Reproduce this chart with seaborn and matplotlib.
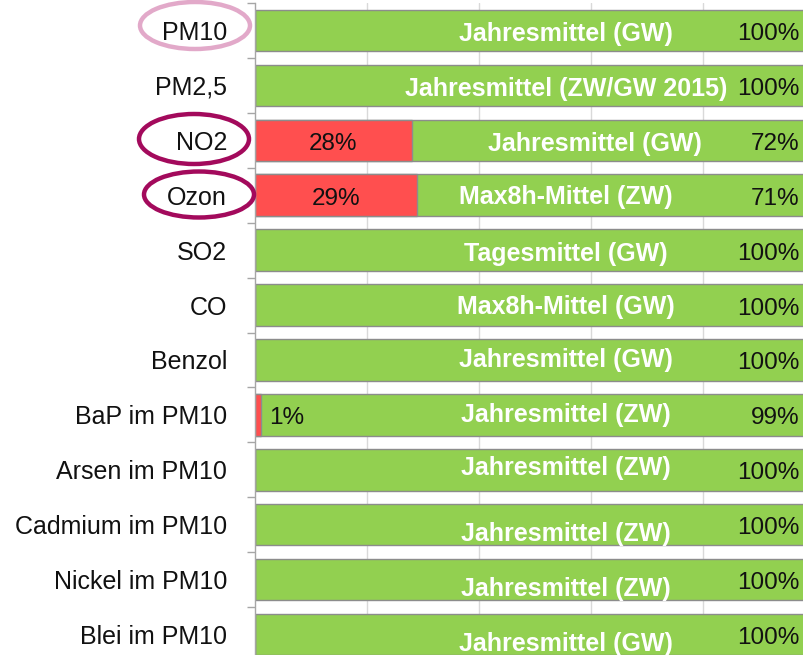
import matplotlib
matplotlib.use("Agg")
import matplotlib.pyplot as plt
from matplotlib.patches import Ellipse
import seaborn as sns
import pandas as pd
import numpy as np

# ---- data ----
categories = ["PM10", "PM2,5", "NO2", "Ozon", "SO2", "CO", "Benzol",
              "BaP im PM10", "Arsen im PM10", "Cadmium im PM10",
              "Nickel im PM10", "Blei im PM10"]
exceed_pct = [0, 0, 28, 29, 0, 0, 0, 1, 0, 0, 0, 0]          # red share
ok_pct = [100, 100, 72, 71, 100, 100, 100, 99, 100, 100, 100, 100]  # green share
metric_labels = ["Jahresmittel (GW)", "Jahresmittel (ZW/GW 2015)",
                 "Jahresmittel (GW)", "Max8h-Mittel (ZW)", "Tagesmittel (GW)",
                 "Max8h-Mittel (GW)", "Jahresmittel (GW)", "Jahresmittel (ZW)",
                 "Jahresmittel (ZW)", "Jahresmittel (ZW)", "Jahresmittel (ZW)",
                 "Jahresmittel (GW)"]
circled = {"PM10": "#e2a9c9", "NO2": "#a30a5c", "Ozon": "#a30a5c"}

# ---- layout/style ----
GREEN = "#92d050"
RED = "#ff4f4f"
EDGE = "#8c8c8c"
W, H = 804, 655
FONT = "Liberation Sans"

sns.set_theme(style="white")
plt.rcParams["font.family"] = [FONT, "DejaVu Sans"]

df = pd.DataFrame({"cat": categories,
                   "total": [(a + b) / 100 for a, b in zip(exceed_pct, ok_pct)],
                   "red": [a / 100 for a in exceed_pct]})

fig = plt.figure(figsize=(W / 100, H / 100), dpi=100)
ax = fig.add_axes([255 / W, (H - 662) / H, 560 / W, 659 / H])

ax.set_axisbelow(True)
ax.set_xticks([0.2, 0.4, 0.6, 0.8, 1.0])
ax.grid(axis="x", color="#d9d9d9", lw=1)
ax.grid(axis="y", visible=False)

sns.barplot(data=df, x="total", y="cat", color=GREEN, saturation=1,
            width=0.755, edgecolor=EDGE, linewidth=1, ax=ax, orient="h")
sns.barplot(data=df, x="red", y="cat", color=RED, saturation=1,
            width=0.755, edgecolor=EDGE, linewidth=1, ax=ax, orient="h")

ax.set_xlim(0, 1)
ax.set_ylim(len(categories) - 0.5, -0.5)
ax.set_xlabel("")
ax.set_ylabel("")
ax.tick_params(axis="x", length=0, labelbottom=False)
ax.tick_params(axis="y", which="major", length=0, pad=20, labelsize=18,
               labelcolor="#111111")
ax.set_yticks(np.arange(-0.5, len(categories) + 0.5, 1), minor=True)
ax.tick_params(axis="y", which="minor", length=6, color="#a6a6a6", width=1,
               left=True)
for s in ["top", "right", "bottom"]:
    ax.spines[s].set_visible(False)
ax.spines["left"].set_color("#a6a6a6")
ax.spines["left"].set_linewidth(1)

# text offsets (pixels, positive = down) and x centres for metric labels
BASE_DY = 3.5
label_dy = {"Arsen im PM10": -5, "Cadmium im PM10": 6, "Nickel im PM10": 6,
            "Blei im PM10": 6, "Ozon": -2, "CO": -2, "Benzol": -3,
            "BaP im PM10": -3}
label_x = {"NO2": 0.607}


def put(x, y, s, dy_px, **kw):
    ax.annotate(s, (x, y), xytext=(0, -(dy_px + BASE_DY) * 0.72),
                textcoords="offset points", va="center", **kw)


for i, cat in enumerate(categories):
    r = exceed_pct[i] / 100
    # red share label
    if exceed_pct[i] > 0:
        if r < 0.05:
            put(r + 0.015, i, f"{exceed_pct[i]}%", 0, ha="left",
                fontsize=17.5, color="#111111")
        else:
            put(r / 2, i, f"{exceed_pct[i]}%", 0, ha="center",
                fontsize=17.5, color="#111111")
    # metric label (white, bold)
    put(label_x.get(cat, 0.555), i, metric_labels[i], label_dy.get(cat, 0),
        ha="center", fontsize=18, fontweight="bold", color="white")
    # green share label
    put(0.972, i, f"{ok_pct[i]}%", 0, ha="right", fontsize=17.5,
        color="#111111")

# ellipses around selected category labels (figure pixel positions)
ell_geom = {"PM10": (195, 25.5, 110, 47),
            "NO2": (194, 139, 110, 50),
            "Ozon": (199, 194.5, 110, 46)}
for cat, col in circled.items():
    cx, cy, ew, eh = ell_geom[cat]
    e = Ellipse((cx / W, 1 - cy / H), ew / W, eh / H, transform=fig.transFigure,
                fill=False, edgecolor=col, lw=3.2, clip_on=False)
    fig.add_artist(e)

fig.savefig("out.png", dpi=100)
